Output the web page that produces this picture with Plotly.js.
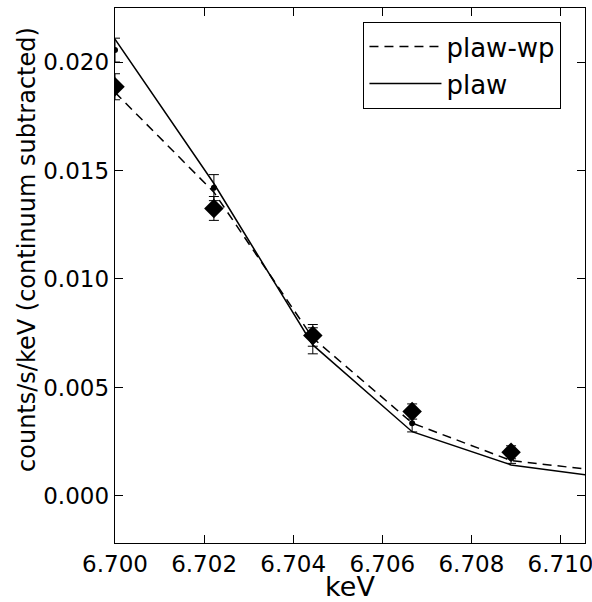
<!DOCTYPE html>
<html>
<head>
<meta charset="utf-8">
<script src="https://cdn.plot.ly/plotly-3.0.1.min.js"></script>
<style>html,body{margin:0;padding:0;background:#fff;}</style>
</head>
<body>
<div id="chart" style="width:592px;height:602px;"></div>
<script>
// Energy bins (keV)
const energy = [6.70000, 6.70222, 6.70444, 6.70667, 6.70889];
const modelEnergy = [6.70000, 6.70222, 6.70444, 6.70667, 6.70889, 6.71111];

// Data set shown with diamonds
const dataDiamond = [0.01886, 0.01325, 0.00740, 0.00389, 0.00201];
const errDiamond  = [0.00060, 0.00055, 0.00050, 0.00035, 0.00030];

// Data set shown with small dots
const dataDot = [0.02055, 0.01421, 0.00715, 0.00335, 0.00175];
const errDot  = [0.00055, 0.00060, 0.00060, 0.00040, 0.00025];

// Models
const plawWp = [0.0186, 0.0140, 0.00728, 0.00336, 0.00163, 0.00111];
const plaw   = [0.02105, 0.0144, 0.00696, 0.00296, 0.00143, 0.00082];

const xTicks = [6.700, 6.702, 6.704, 6.706, 6.708, 6.710];
const yTicks = [0.000, 0.005, 0.010, 0.015, 0.020];

const xLabel = 'keV';
const yLabel = 'counts/s/keV (continuum subtracted)';

const font = "DejaVu Sans, sans-serif";

const traces = [
  {
    x: energy, y: dataDot, type: 'scatter', mode: 'markers', showlegend: false,
    marker: {symbol: 'circle', size: 6, color: 'black'},
    error_y: {type: 'data', array: errDot, visible: true, color: 'black', thickness: 1, width: 5}
  },
  {
    x: energy, y: dataDiamond, type: 'scatter', mode: 'markers', showlegend: false,
    marker: {symbol: 'diamond', size: 15, color: 'black'},
    error_y: {type: 'data', array: errDiamond, visible: true, color: 'black', thickness: 1, width: 5}
  },
  {
    x: modelEnergy, y: plawWp, type: 'scatter', mode: 'lines', name: 'plaw-wp',
    line: {color: 'black', width: 1.5, dash: '9px,6px'}
  },
  {
    x: modelEnergy, y: plaw, type: 'scatter', mode: 'lines', name: 'plaw',
    line: {color: 'black', width: 1.5}
  }
];

const layout = {
  width: 592, height: 602,
  margin: {l: 115, r: 7, t: 8, b: 59},
  paper_bgcolor: '#fff', plot_bgcolor: '#fff',
  font: {family: font, color: 'black', size: 23},
  showlegend: true,
  legend: {
    x: 0.528, y: 0.974, xanchor: 'left', yanchor: 'top',
    bordercolor: 'black', borderwidth: 1.3, bgcolor: '#fff',
    font: {family: font, size: 26, color: 'black'},
    itemwidth: 72,
    tracegroupgap: 0
  },
  xaxis: {
    range: [6.7000, 6.71055],
    tickvals: xTicks, tickformat: '.3f',
    ticks: 'inside', ticklen: 8, tickwidth: 1, tickcolor: 'black',
    ticklabeloverflow: 'allow',
    showline: true, linecolor: 'black', linewidth: 1.3, mirror: 'ticks',
    showgrid: false, zeroline: false,
    tickfont: {family: font, size: 23},
    title: {text: xLabel, font: {family: font, size: 27}, standoff: 9}
  },
  yaxis: {
    range: [-0.00217, 0.02249],
    tickvals: yTicks, tickformat: '.3f',
    ticks: 'inside', ticklen: 8, tickwidth: 1, tickcolor: 'black',
    showline: true, linecolor: 'black', linewidth: 1.3, mirror: 'ticks',
    showgrid: false, zeroline: false,
    tickfont: {family: font, size: 23}
  },
  annotations: [{
    text: yLabel, xref: 'paper', yref: 'paper',
    x: -0.187, y: 0.548, xanchor: 'center', yanchor: 'middle',
    textangle: -90, showarrow: false,
    font: {family: font, size: 24, color: 'black'}
  }]
};

Plotly.newPlot('chart', traces, layout, {displayModeBar: false, staticPlot: true});
</script>
</body>
</html>
